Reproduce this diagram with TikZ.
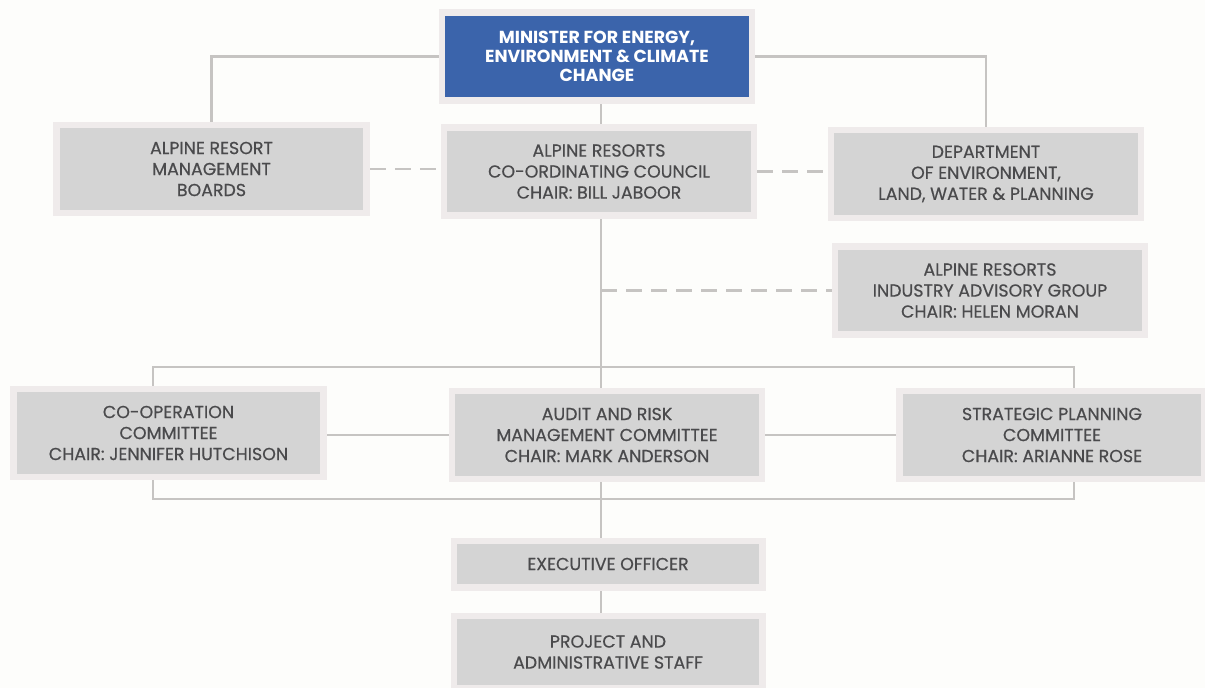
\documentclass[tikz,border=0pt]{standalone}
\usepackage{fontspec}
\setmainfont{Poppins}
\newfontfamily\greyfont{Poppins}[FakeBold=0.5]
\usetikzlibrary{backgrounds}
\definecolor{bg}{HTML}{FDFDFB}
\definecolor{frame}{HTML}{EFEBEB}
\definecolor{boxgrey}{HTML}{D4D4D4}
\definecolor{minblue}{HTML}{3B64AB}
\definecolor{linegrey}{HTML}{C6C4C2}
\definecolor{txt}{HTML}{4A4A4C}
\begin{document}
\begin{tikzpicture}[x=1pt,y=-1pt,
  box/.style={draw=frame, line width=6.5pt, fill=boxgrey, minimum width=310pt,
    minimum height=88pt, inner sep=0pt, align=center, text=txt,
    font=\greyfont\fontsize{17.4}{21}\selectfont},
  bluebox/.style={box, fill=minblue, text=white,
    font=\bfseries\fontsize{17.4}{19}\selectfont},
  conn/.style={draw=linegrey, line width=2.6pt},
  dashconn/.style={conn, dash pattern=on 16pt off 9pt}]
\useasboundingbox (0,0) rectangle (1205,688);
% boxes
\node[bluebox] (blue) at (597,56.5) {MINISTER FOR ENERGY,\\ENVIRONMENT \& CLIMATE\\CHANGE};
\node[box] (armb) at (211.5,169) {ALPINE RESORT\\MANAGEMENT\\BOARDS};
\node[box] (arcc) at (599,171.5) {ALPINE RESORTS\\CO-ORDINATING COUNCIL\\CHAIR: BILL JABOOR};
\node[box] (delwp) at (986,174) {DEPARTMENT\\OF ENVIRONMENT,\\LAND, WATER \& PLANNING};
\node[box] (ariag) at (990,290.5) {ALPINE RESORTS\\INDUSTRY ADVISORY GROUP\\CHAIR: HELEN MORAN};
\node[box] (coc) at (168.5,433) {CO-OPERATION\\COMMITTEE\\CHAIR: JENNIFER HUTCHISON};
\node[box] (armc) at (607,435) {AUDIT AND RISK\\MANAGEMENT COMMITTEE\\CHAIR: MARK ANDERSON};
\node[box, minimum width=305pt] (spc) at (1052,435) {STRATEGIC PLANNING\\COMMITTEE\\CHAIR: ARIANNE ROSE};
\node[box, minimum width=308.5pt, minimum height=46.5pt] (exec) at (608,564) {EXECUTIVE OFFICER};
\node[box, minimum width=308.5pt, minimum height=72pt] (proj) at (608,652) {PROJECT AND\\ADMINISTRATIVE STAFF};
% helper coordinates
\coordinate (sp) at (601,0);
\coordinate (bus1l) at (153,367);
\coordinate (bus1r) at (1074,367);
\coordinate (bus2l) at (153,499);
\coordinate (bus2r) at (1074,499);
\begin{pgfonlayer}{background}
\fill[bg] (0,0) rectangle (1205,688);
\draw[conn] (blue.west) -| (armb.north);
\draw[conn] (blue.east) -| (delwp.north);
\draw[conn] (blue.south -| sp) -- (arcc.north -| sp);
\draw[conn] (arcc.south -| sp) -- (armc.north -| sp);
\draw[conn] (bus1l |- coc.north) -- (bus1l) -- (bus1r) -- (bus1r |- spc.north);
\draw[conn] (bus2l |- coc.south) -- (bus2l) -- (bus2r) -- (bus2r |- spc.south);
\draw[conn] (armc.south -| sp) -- (exec.north -| sp);
\draw[conn] (exec.south -| sp) -- (proj.north -| sp);
\draw[conn] (armc.west -| coc.east) -- (armc.west);
\draw[conn] (armc.east) -- (armc.east -| spc.west);
\draw[dashconn] (armb.east) -- (armb.east -| arcc.west);
\draw[dashconn] (arcc.east) -- (arcc.east -| delwp.west);
\draw[dashconn] (sp |- ariag.west) -- (ariag.west);
\end{pgfonlayer}
\end{tikzpicture}
\end{document}
